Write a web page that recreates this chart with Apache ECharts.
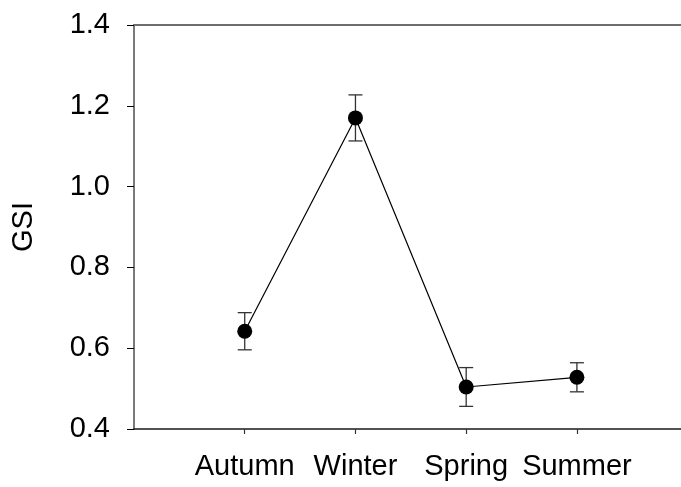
<!DOCTYPE html>
<html>
<head>
<meta charset="utf-8">
<script src="https://cdn.jsdelivr.net/npm/echarts@6/dist/echarts.min.js"></script>
<style>html,body{margin:0;padding:0;background:#fff}#c{width:681px;height:487px}</style>
</head>
<body>
<div id="c"></div>
<script>
var categories = ['Autumn', 'Winter', 'Spring', 'Summer'];
var gsiMean = [0.642, 1.170, 0.504, 0.528];
var gsiErr = [0.046, 0.057, 0.048, 0.036];
var yTicks = [0.4, 0.6, 0.8, 1.0, 1.2, 1.4];

var pts = categories.map(function (c, i) { return [i + 1, gsiMean[i]]; });
var errs = categories.map(function (c, i) { return [i + 1, gsiMean[i] - gsiErr[i], gsiMean[i] + gsiErr[i]]; });
var FONT = 'Liberation Sans, Arial, sans-serif';

var chart = echarts.init(document.getElementById('c'));
chart.setOption({
  animation: false,
  backgroundColor: '#fff',
  grid: { left: 134, top: 25, right: 0, bottom: 58, containLabel: false },
  xAxis: [{
    type: 'value', min: 0, max: 4.94, position: 'bottom',
    axisLine: { show: true, onZero: false, lineStyle: { color: '#1a1a1a', width: 1.5 } },
    axisTick: { show: true, length: 5, customValues: [1, 2, 3, 4], lineStyle: { color: '#333', width: 1.2 } },
    axisLabel: { customValues: [1, 2, 3, 4], margin: 23, fontSize: 29, color: '#000', fontFamily: FONT,
      formatter: function (v) { return categories[Math.round(v) - 1] || ''; } },
    splitLine: { show: false }
  }, {
    type: 'value', min: 0, max: 4.94, position: 'top',
    axisLine: { show: true, onZero: false, lineStyle: { color: '#6e6e6e', width: 2 } },
    axisTick: { show: false }, axisLabel: { show: false }, splitLine: { show: false }
  }],
  yAxis: {
    type: 'value', min: 0.4, max: 1.4, interval: 0.2,
    name: 'GSI', nameLocation: 'middle', nameGap: 96, nameRotate: 90,
    nameTextStyle: { fontSize: 29, color: '#000', fontFamily: FONT },
    axisLine: { show: true, onZero: false, lineStyle: { color: '#7a7a7a', width: 2 } },
    axisTick: { show: true, length: 7, lineStyle: { color: '#000', width: 1 } },
    axisLabel: { margin: 24, fontSize: 29, color: '#000', fontFamily: FONT,
      formatter: function (v) { return v.toFixed(1); } },
    splitLine: { show: false }
  },
  series: [{
    type: 'custom',
    data: errs,
    z: 2,
    renderItem: function (params, api) {
      var lo = api.coord([api.value(0), api.value(1)]);
      var hi = api.coord([api.value(0), api.value(2)]);
      var hw = 7;
      var st = { stroke: '#333', lineWidth: 1.3 };
      return { type: 'group', children: [
        { type: 'line', shape: { x1: lo[0], y1: lo[1], x2: hi[0], y2: hi[1] }, style: st },
        { type: 'line', shape: { x1: lo[0] - hw, y1: lo[1], x2: lo[0] + hw, y2: lo[1] }, style: st },
        { type: 'line', shape: { x1: hi[0] - hw, y1: hi[1], x2: hi[0] + hw, y2: hi[1] }, style: st }
      ] };
    }
  }, {
    type: 'line',
    data: pts,
    z: 3,
    symbol: 'circle', symbolSize: 15,
    itemStyle: { color: '#000' },
    lineStyle: { color: '#000', width: 1.2 }
  }]
});
</script>
</body>
</html>
